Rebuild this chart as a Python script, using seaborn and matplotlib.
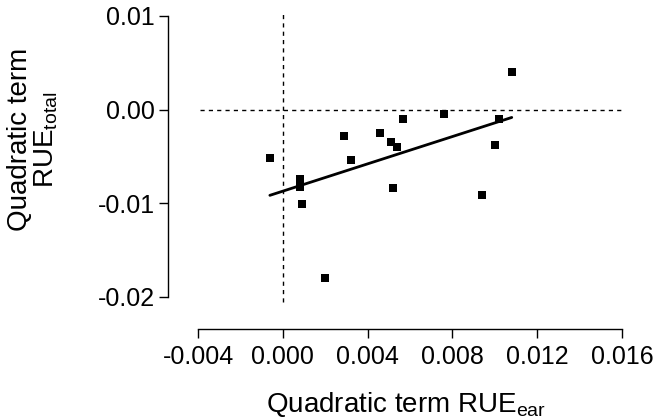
import matplotlib
matplotlib.use("Agg")
import matplotlib.pyplot as plt
import seaborn as sns
import pandas as pd
import numpy as np

sns.set_style("ticks")
plt.rcParams['font.family'] = ['Liberation Sans', 'DejaVu Sans']
plt.rcParams['mathtext.default'] = 'regular'
plt.rcParams['text.color'] = 'black'
plt.rcParams['axes.labelcolor'] = 'black'
plt.rcParams['xtick.color'] = 'black'
plt.rcParams['ytick.color'] = 'black'

rue_ear = [-0.00061, 0.0008, 0.0008, 0.0009, 0.0020, 0.00289, 0.0032, 0.00459,
           0.0051, 0.0054, 0.0052, 0.00568, 0.0076, 0.0094, 0.0100, 0.0102, 0.0108]
rue_total = [-0.00516, -0.0074, -0.0083, -0.0101, -0.0180, -0.0028, -0.0054, -0.00245,
             -0.0034, -0.0040, -0.0084, -0.00100, -0.00043, -0.0091, -0.0038, -0.0010, 0.0040]
x_ticks = [-0.004, 0.000, 0.004, 0.008, 0.012, 0.016]
y_ticks = [-0.02, -0.01, 0.00, 0.01]

df = pd.DataFrame({"ear": rue_ear, "total": rue_total})

fig = plt.figure(figsize=(6.54, 4.19), dpi=100)
ax = fig.add_axes([198/654, 1-297/419, 424/654, 281/419])

ax.axhline(0, xmin=0.005, xmax=1, color='black', lw=1.0, ls=(0, (3, 3)), zorder=1)
ax.plot([0, 0], [-0.0205, 0.0103], color='black', lw=1.0, ls=(0, (3, 3)),
        clip_on=False, zorder=1)

sns.regplot(data=df, x="ear", y="total", ax=ax, ci=None, truncate=True,
            marker='s', color='black',
            scatter_kws=dict(s=30, linewidths=0, alpha=1, zorder=3),
            line_kws=dict(lw=2.0, color='black', zorder=2))

ax.set_xlim(-0.004, 0.016)
ax.set_ylim(-0.02, 0.01)
ax.set_xticks(x_ticks)
ax.set_xticklabels([f"{v:.3f}" for v in x_ticks])
ax.set_yticks(y_ticks)
ax.set_yticklabels([f"{v:.2f}" for v in y_ticks])

for s in ['top', 'right']:
    ax.spines[s].set_visible(False)
ax.spines['left'].set_position(('outward', 21.6))
ax.spines['bottom'].set_position(('outward', 23))
for s in ['left', 'bottom']:
    ax.spines[s].set_linewidth(1.0)
    ax.spines[s].set_color('black')

ax.tick_params(axis='both', direction='out', length=6.5, width=1.0, colors='black',
               labelsize=18)
ax.tick_params(axis='y', pad=3)
ax.tick_params(axis='x', pad=5)

ax.set_xlabel("Quadratic term RUE$_{ear}$", fontsize=20)
ax.set_ylabel("Quadratic term\nRUE$_{total}$", fontsize=20, linespacing=1.0)
ax.xaxis.set_label_coords(0.49, -0.33)
ax.yaxis.set_label_coords(-0.325, 0.56)

fig.savefig("out.png", dpi=100)
